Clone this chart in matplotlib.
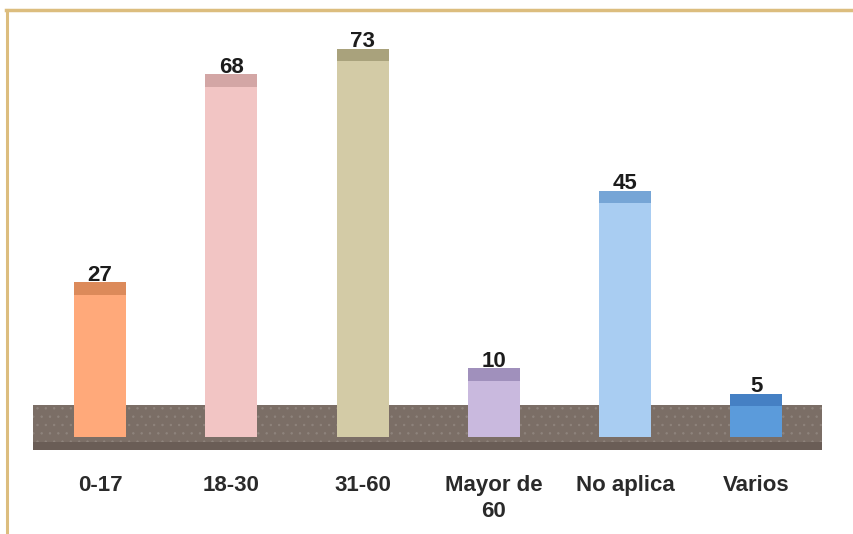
import matplotlib.pyplot as plt
from matplotlib.patches import Rectangle

categories = ['0-17', '18-30', '31-60', 'Mayor de\n60', 'No aplica', 'Varios']
values = [27, 68, 73, 10, 45, 5]

body_colors = ['#FFA97A', '#F2C5C4', '#D3CBA6', '#C9B9DE', '#A9CDF2', '#5B9BDB']
cap_colors = ['#DC8A5A', '#D3A6A5', '#A9A27C', '#A090BC', '#76A5D6', '#4580C4']

plt.rcParams['font.family'] = ['Liberation Sans', 'DejaVu Sans']
plt.rcParams['hatch.linewidth'] = 0.5

fig = plt.figure(figsize=(8.54, 5.34), dpi=100)
ax = fig.add_axes([0, 0, 1, 1])
ax.set_xlim(-0.762, 5.743)
ax.set_ylim(-22.7, 82.6)
ax.axis('off')

# ground strip the bars stand in
ax.add_patch(Rectangle((-0.51, -6.1), 6.01, 8.9, facecolor='#7B6E66',
                       edgecolor='#8F847D', hatch='..', linewidth=0, zorder=1))
ax.add_patch(Rectangle((-0.51, -6.1), 6.01, 1.6, facecolor='#6A5D56',
                       edgecolor='none', linewidth=0, zorder=1))

depth = 3.5
width = 0.396
cap = 2.5
for i, v in enumerate(values):
    ax.bar(i, v + depth, bottom=-depth, width=width, color=body_colors[i],
           edgecolor='none', zorder=3)
    ax.bar(i, cap, bottom=v - cap, width=width, color=cap_colors[i],
           edgecolor='none', zorder=4)
    ax.text(i, v + 0.25, str(v), ha='center', va='baseline', fontsize=16,
            fontweight='bold', color='#1c1c1c', zorder=5)
    ax.text(i, -11.1, categories[i], ha='center', va='top', fontsize=16,
            fontweight='bold', color='#2a2a2a', linespacing=1.3)

# frame lines on top and left
fig.add_artist(plt.Line2D([6.5 / 854, 1], [1 - 9.5 / 534, 1 - 9.5 / 534],
                          color='#DCBD7E', linewidth=2.5))
fig.add_artist(plt.Line2D([7 / 854, 7 / 854], [0, 1 - 9.5 / 534],
                          color='#DCBD7E', linewidth=2.2))

fig.savefig('out.png', dpi=100)
